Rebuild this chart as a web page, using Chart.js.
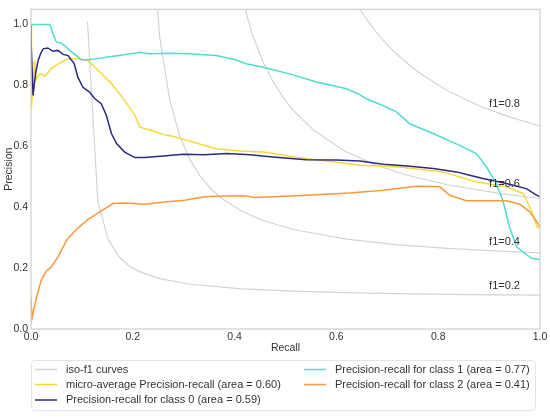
<!DOCTYPE html>
<html lang="en">
<head>
  <meta charset="UTF-8" />
  <title>Precision-Recall curves</title>
  <script src="https://cdn.jsdelivr.net/npm/chart.js"></script>
  <style>
    body { margin: 0; background: #fff; }
    #wrap { width: 550px; height: 417px; }
  </style>
</head>
<body>
  <div id="wrap"><canvas id="prChart" width="550" height="417"></canvas></div>

  <script>
    // tick labels
    const xTicks = [0, 0.2, 0.4, 0.6, 0.8, 1.0];
    const yTicks = [0, 0.2, 0.4, 0.6, 0.8, 1.0];

    // iso-f1 reference curves (recall, precision)
    const isoScores = [0.2, 0.4, 0.6, 0.8];
    const iso02Recall = [0.111, 0.1312, 0.1514, 0.1716, 0.1918, 0.212, 0.2524, 0.3131, 0.4141, 0.5151, 0.6161, 0.7171, 0.8182, 0.9192, 1.0];
    const iso02Precision = [1.009, 0.4205, 0.2946, 0.2397, 0.2089, 0.1893, 0.1656, 0.1469, 0.1318, 0.1241, 0.1194, 0.1162, 0.1139, 0.1122, 0.1111];
    const iso04Recall = [0.212, 0.2322, 0.2524, 0.2727, 0.2929, 0.3131, 0.3333, 0.3535, 0.3737, 0.4141, 0.4545, 0.5151, 0.6161, 0.7171, 0.8182, 0.9192, 1.0];
    const iso04Precision = [3.533, 1.442, 0.9634, 0.7502, 0.6306, 0.5537, 0.5001, 0.4606, 0.4303, 0.3868, 0.3572, 0.3269, 0.2961, 0.2774, 0.2647, 0.2556, 0.25];
    const iso06Recall = [0.3131, 0.3333, 0.3535, 0.3737, 0.3939, 0.4141, 0.4343, 0.4545, 0.4747, 0.4949, 0.5151, 0.5555, 0.6161, 0.6767, 0.7373, 0.8182, 0.9192, 1.0];
    const iso06Precision = [7.17, 3.003, 1.982, 1.521, 1.258, 1.089, 0.9701, 0.8825, 0.8152, 0.7618, 0.7184, 0.6523, 0.5847, 0.5389, 0.5058, 0.4737, 0.4454, 0.4286];
    const iso08Recall = [0.4141, 0.4343, 0.4545, 0.4747, 0.4949, 0.5151, 0.5353, 0.5555, 0.5757, 0.5959, 0.6161, 0.6363, 0.6565, 0.6767, 0.6969, 0.7171, 0.7575, 0.8182, 0.8788, 0.9394, 1.0];
    const iso08Precision = [11.75, 5.065, 3.336, 2.542, 2.086, 1.79, 1.583, 1.429, 1.311, 1.217, 1.14, 1.077, 1.024, 0.9782, 0.9389, 0.9046, 0.8476, 0.7826, 0.7342, 0.6966, 0.6667];
    const isoLabelRecall = 0.9;
    const isoLabelPrecision = [0.132, 0.276, 0.465, 0.728];

    // micro-average
    const microRecall = [0, 0.001, 0.004, 0.007, 0.01, 0.014, 0.02, 0.027, 0.04, 0.053, 0.073, 0.092, 0.112, 0.132, 0.158, 0.184, 0.204, 0.214, 0.24, 0.266, 0.279, 0.312, 0.364, 0.41, 0.456, 0.5, 0.541, 0.6, 0.646, 0.724, 0.809, 0.875, 0.934, 0.967, 0.983, 0.994, 1.0];
    const microPrecision = [1.0, 0.73, 0.8, 0.882, 0.82, 0.833, 0.838, 0.83, 0.855, 0.871, 0.888, 0.888, 0.882, 0.849, 0.806, 0.751, 0.702, 0.663, 0.65, 0.636, 0.633, 0.617, 0.592, 0.585, 0.581, 0.57, 0.56, 0.548, 0.538, 0.532, 0.516, 0.483, 0.467, 0.445, 0.39, 0.335, 0.33];

    // class 0
    const class0Recall = [0, 0, 0.004, 0.009, 0.014, 0.019, 0.024, 0.033, 0.043, 0.053, 0.063, 0.073, 0.085, 0.092, 0.102, 0.115, 0.125, 0.138, 0.148, 0.158, 0.168, 0.184, 0.204, 0.223, 0.26, 0.299, 0.34, 0.384, 0.43, 0.475, 0.541, 0.6, 0.646, 0.692, 0.74, 0.79, 0.836, 0.862, 0.888, 0.934, 0.973, 0.994, 1.0];
    const class0Precision = [1.0, 0.95, 0.767, 0.84, 0.882, 0.905, 0.92, 0.923, 0.912, 0.915, 0.902, 0.898, 0.871, 0.827, 0.794, 0.778, 0.757, 0.74, 0.702, 0.642, 0.609, 0.581, 0.563, 0.563, 0.568, 0.574, 0.572, 0.576, 0.572, 0.565, 0.556, 0.555, 0.552, 0.541, 0.535, 0.527, 0.516, 0.505, 0.494, 0.478, 0.461, 0.439, 0.435];

    // class 1
    const class1Recall = [0, 0.037, 0.043, 0.05, 0.058, 0.066, 0.076, 0.086, 0.099, 0.112, 0.13, 0.151, 0.18, 0.204, 0.214, 0.233, 0.27, 0.312, 0.364, 0.4, 0.423, 0.456, 0.508, 0.561, 0.62, 0.646, 0.659, 0.69, 0.718, 0.744, 0.79, 0.842, 0.875, 0.895, 0.914, 0.927, 0.94, 0.954, 0.967, 0.983, 1.0];
    const class1Precision = [1.0, 1.0, 0.97, 0.942, 0.94, 0.931, 0.915, 0.902, 0.884, 0.884, 0.888, 0.893, 0.9, 0.906, 0.909, 0.904, 0.906, 0.904, 0.898, 0.885, 0.871, 0.86, 0.838, 0.811, 0.789, 0.77, 0.756, 0.735, 0.713, 0.674, 0.642, 0.603, 0.576, 0.532, 0.478, 0.423, 0.335, 0.27, 0.253, 0.232, 0.228];

    // class 2
    const class2Recall = [0, 0.002, 0.01, 0.02, 0.03, 0.04, 0.053, 0.07, 0.089, 0.112, 0.138, 0.161, 0.184, 0.223, 0.263, 0.302, 0.341, 0.38, 0.42, 0.439, 0.498, 0.55, 0.626, 0.692, 0.757, 0.803, 0.823, 0.855, 0.934, 0.96, 0.98, 0.994, 1.0];
    const class2Precision = [0.105, 0.035, 0.1, 0.16, 0.19, 0.204, 0.237, 0.292, 0.327, 0.36, 0.388, 0.412, 0.414, 0.41, 0.417, 0.423, 0.434, 0.437, 0.438, 0.432, 0.436, 0.44, 0.447, 0.456, 0.469, 0.467, 0.439, 0.421, 0.421, 0.41, 0.385, 0.352, 0.335];

    const FONT = 'Liberation Sans, Arial, sans-serif';
    const TEXT = '#333';

    const pts = (xs, ys) => xs.map((x, i) => ({ x: x, y: ys[i] }));

    const isoCurves = [
      [iso02Recall, iso02Precision],
      [iso04Recall, iso04Precision],
      [iso06Recall, iso06Precision],
      [iso08Recall, iso08Precision]
    ];

    const isoSets = isoCurves.map((c, i) => ({
      label: i === 0 ? 'iso-f1 curves' : '',
      data: pts(c[0], c[1]),
      borderColor: 'rgba(128,128,128,0.35)',
      borderWidth: 1.2,
      order: 10
    }));

    const curveSets = [
      { label: 'micro-average Precision-recall (area = 0.60)', data: pts(microRecall, microPrecision), borderColor: '#f8d838', order: 4 },
      { label: 'Precision-recall for class 0 (area = 0.59)', data: pts(class0Recall, class0Precision), borderColor: '#2a2a80', order: 3 },
      { label: 'Precision-recall for class 1 (area = 0.77)', data: pts(class1Recall, class1Precision), borderColor: '#4fdccf', order: 2 },
      { label: 'Precision-recall for class 2 (area = 0.41)', data: pts(class2Recall, class2Precision), borderColor: '#f79a3c', order: 1 }
    ].map(d => Object.assign({ borderWidth: 1.5 }, d));

    // legend entries: dataset index, column-major like matplotlib (ncol=2)
    const legendOrder = [0, 4, 5, 6, 7];

    const framePlugin = {
      id: 'frame',
      afterDatasetsDraw(chart) {
        const a = chart.chartArea, ctx = chart.ctx;
        ctx.save();
        ctx.strokeStyle = '#cfcfcf';
        ctx.lineWidth = 1.2;
        ctx.strokeRect(a.left, a.top, a.right - a.left, a.bottom - a.top);

        // iso-f1 annotations
        const xs = chart.scales.x, ys = chart.scales.y;
        ctx.fillStyle = TEXT;
        ctx.font = '11px ' + FONT;
        ctx.textAlign = 'left';
        ctx.textBaseline = 'alphabetic';
        isoScores.forEach((f, i) => {
          ctx.fillText('f1=' + f.toFixed(1), xs.getPixelForValue(isoLabelRecall), ys.getPixelForValue(isoLabelPrecision[i]));
        });
        ctx.restore();
      }
    };

    const legendPlugin = {
      id: 'prLegend',
      afterDraw(chart) {
        const ctx = chart.ctx;
        ctx.save();
        ctx.fillStyle = '#fff';
        ctx.strokeStyle = '#e4e4e4';
        ctx.lineWidth = 1;
        ctx.beginPath();
        ctx.roundRect(31.5, 360.5, 504, 50, 3);
        ctx.fill();
        ctx.stroke();

        ctx.font = '11px ' + FONT;
        ctx.textBaseline = 'middle';
        ctx.textAlign = 'left';
        const colX = [35, 304];
        const rowY = [369.5, 384.5, 400];
        legendOrder.forEach((di, i) => {
          const ds = chart.data.datasets[di];
          const col = i < 3 ? 0 : 1;
          const row = i < 3 ? i : i - 3;
          const hx = colX[col], y = rowY[row];
          ctx.strokeStyle = ds.borderColor;
          ctx.lineWidth = 1.5;
          ctx.beginPath();
          ctx.moveTo(hx, y);
          ctx.lineTo(hx + 22, y);
          ctx.stroke();
          ctx.fillStyle = TEXT;
          ctx.fillText(ds.label, hx + 31, y);
        });
        ctx.restore();
      }
    };

    new Chart(document.getElementById('prChart'), {
      type: 'scatter',
      data: { datasets: isoSets.concat(curveSets) },
      options: {
        responsive: false,
        animation: false,
        showLine: true,
        elements: { point: { radius: 0, hoverRadius: 0 }, line: { tension: 0 } },
        layout: { padding: { left: 0, right: 10, top: 7, bottom: 63 } },
        plugins: { legend: { display: false }, tooltip: { enabled: false } },
        scales: {
          x: {
            type: 'linear',
            min: 0,
            max: 1,
            afterBuildTicks: s => { s.ticks = xTicks.map(v => ({ value: v })); },
            afterFit: s => { s.height = 25; },
            grid: { display: false, drawTicks: false },
            border: { display: false },
            ticks: { callback: v => v.toFixed(1), font: { family: FONT, size: 10.5 }, color: TEXT, padding: 2, maxRotation: 0, autoSkip: false },
            title: { display: true, text: 'Recall', font: { family: FONT, size: 10.5 }, color: TEXT, padding: { top: 0, bottom: 0 } }
          },
          y: {
            type: 'linear',
            min: 0,
            max: 1.05,
            afterBuildTicks: s => { s.ticks = yTicks.map(v => ({ value: v })); },
            afterFit: s => { s.width = 31; },
            grid: { display: false, drawTicks: false },
            border: { display: false },
            ticks: { callback: v => v.toFixed(1), font: { family: FONT, size: 10.5 }, color: TEXT, padding: 3 },
            title: { display: true, text: 'Precision', font: { family: FONT, size: 10.5 }, color: TEXT, padding: { top: 3, bottom: 0 } }
          }
        }
      },
      plugins: [framePlugin, legendPlugin]
    });
  </script>
</body>
</html>
